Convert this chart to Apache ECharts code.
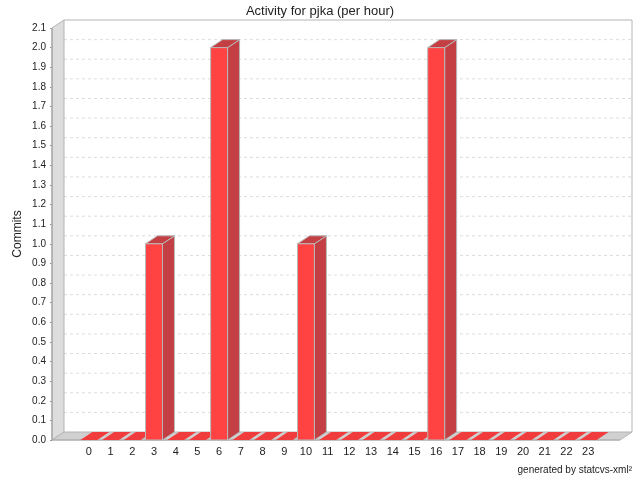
<!DOCTYPE html>
<html>
<head>
<meta charset="utf-8">
<script src="https://cdn.jsdelivr.net/npm/echarts@6/dist/echarts.min.js"></script>
<style>html,body{margin:0;padding:0;background:#fff}#c{width:640px;height:480px}</style>
</head>
<body>
<div id="c"></div>
<script>
var categories = ['0','1','2','3','4','5','6','7','8','9','10','11','12','13','14','15','16','17','18','19','20','21','22','23'];
var commits = [0,0,0,1,0,0,2,0,0,0,1,0,0,0,0,0,2,0,0,0,0,0,0,0];
var yMin = 0, yMax = 2.1, yStep = 0.1;
var titleText = 'Activity for pjka (per hour)';
var yName = 'Commits';
var footText = 'generated by statcvs-xml\u00b2';

var DX = 12, DY = -8;
var FONT = 'Liberation Sans';

var chart = echarts.init(document.getElementById('c'), null, {renderer: 'canvas'});

function frameRender(params, api) {
  var p0 = api.coord([0, yMin]);
  var p1 = api.coord([1, yMax]);
  var L = p0[0], B = p0[1], R = p1[0], T = p1[1];
  var children = [];
  var n = Math.round((yMax - yMin) / yStep);
  for (var k = 1; k < n; k++) {
    var y = api.coord([0, yMin + k * yStep])[1] + DY;
    children.push({type: 'line', shape: {x1: L + DX, y1: y, x2: R + DX, y2: y},
      style: {stroke: '#dcdcdc', lineWidth: 1, lineDash: [3, 3]}});
  }
  children.push({type: 'polyline', shape: {points: [[L + DX, T + DY], [R + DX, T + DY], [R + DX, B + DY]]},
    style: {stroke: '#b4b4b4', lineWidth: 1, fill: null}});
  children.push({type: 'polygon', shape: {points: [[L, B], [L, T], [L + DX, T + DY], [L + DX, B + DY]]},
    style: {fill: '#dddddd', stroke: '#b4b4b4', lineWidth: 1}});
  children.push({type: 'polygon', shape: {points: [[L, B], [R, B], [R + DX, B + DY], [L + DX, B + DY]]},
    style: {fill: '#d0d0d0', stroke: '#b4b4b4', lineWidth: 1}});
  children.push({type: 'line', shape: {x1: L, y1: T, x2: L, y2: B}, style: {stroke: '#999', lineWidth: 1}});
  children.push({type: 'line', shape: {x1: L, y1: B, x2: R, y2: B}, style: {stroke: '#aaa', lineWidth: 1}});
  return {type: 'group', children: children};
}

function barRender(params, api) {
  var i = api.value(0), v = api.value(1);
  var base = api.coord([i, 0]);
  var top = api.coord([i, v]);
  var bw = api.size([1, 0])[0] * 0.78;
  var l = base[0] - bw / 2, r = l + bw;
  var children = [];
  if (v > 0) {
    children.push({type: 'polygon', shape: {points: [[r, top[1]], [r + DX, top[1] + DY], [r + DX, base[1] + DY], [r, base[1]]]},
      style: {fill: '#c43f43', stroke: '#b8b8b8', lineWidth: 1}});
    children.push({type: 'polygon', shape: {points: [[l, top[1]], [l + DX, top[1] + DY], [r + DX, top[1] + DY], [r, top[1]]]},
      style: {fill: '#c43f43', stroke: '#b8b8b8', lineWidth: 1}});
    children.push({type: 'rect', shape: {x: l, y: top[1], width: bw, height: base[1] - top[1]},
      style: {fill: '#ff4242', stroke: '#b8b8b8', lineWidth: 1}});
  } else {
    children.push({type: 'polygon', shape: {points: [[l, base[1]], [l + DX, base[1] + DY], [r + DX, base[1] + DY], [r, base[1]]]},
      style: {fill: '#f03c3c'}});
  }
  return {type: 'group', children: children};
}

var option = {
  animation: false,
  backgroundColor: '#ffffff',
  title: {text: titleText, left: 'center', top: 0,
    textStyle: {fontFamily: FONT, fontSize: 13, fontWeight: 'normal', color: '#222'}},
  graphic: [{type: 'text', right: 8, bottom: 5,
    style: {text: footText, fontFamily: FONT, fontSize: 10, fill: '#222'}}],
  grid: [
    {left: 52, right: 20, top: 28, bottom: 40, outerBoundsMode: 'none'},
    {left: 78, right: 41, top: 28, bottom: 40, outerBoundsMode: 'none'}
  ],
  xAxis: [
    {gridIndex: 0, type: 'value', min: 0, max: 1, show: false},
    {gridIndex: 1, type: 'category', data: categories,
      axisLine: {show: false}, axisTick: {show: false}, splitLine: {show: false},
      axisLabel: {fontFamily: FONT, fontSize: 11, color: '#222', margin: 6, interval: 0}}
  ],
  yAxis: [
    {gridIndex: 0, type: 'value', min: yMin, max: yMax, interval: yStep,
      name: yName, nameLocation: 'middle', nameGap: 28, nameMoveOverlap: false,
      nameTextStyle: {fontFamily: FONT, fontSize: 12, color: '#222'},
      axisLine: {show: false},
      axisTick: {show: true, length: 2, lineStyle: {color: '#999'}},
      splitLine: {show: false},
      axisLabel: {fontFamily: FONT, fontSize: 10, color: '#222', margin: 6,
        formatter: function (v) { return v.toFixed(1); }}},
    {gridIndex: 1, type: 'value', min: yMin, max: yMax, interval: yStep, show: false}
  ],
  series: [
    {type: 'custom', xAxisIndex: 0, yAxisIndex: 0, z: 1, silent: true,
      data: [[0, 0]], renderItem: frameRender},
    {type: 'custom', xAxisIndex: 1, yAxisIndex: 1, z: 2,
      data: commits.map(function (v, i) { return [i, v]; }), renderItem: barRender}
  ]
};
chart.setOption(option);
</script>
</body>
</html>
